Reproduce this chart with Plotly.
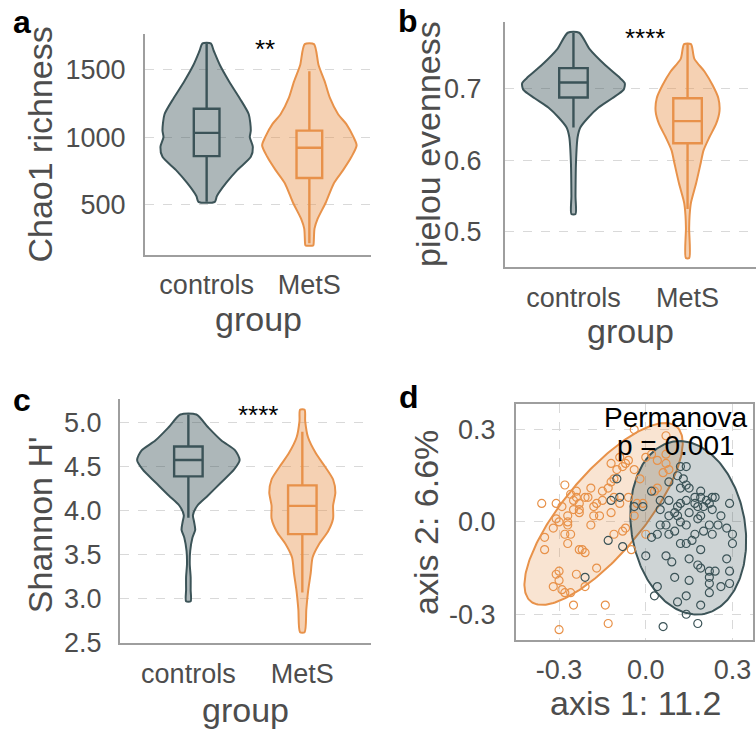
import numpy as np
import plotly.graph_objects as go

W, H = 756, 742
DARK = "#3C5458"
ORANGE = "#E8924A"
DARK_FILL = "rgba(60,84,88,0.42)"
ORANGE_FILL = "rgba(232,146,74,0.42)"
TXT = "#4D4D4D"
FONT = "Liberation Sans, Arial, sans-serif"

groups = ["controls", "MetS"]

# ---- panel a: Chao1 richness violin profiles (value, half-width) ----
chao_ctrl_vals = [520, 563, 660, 757, 854, 927, 1000, 1049, 1170, 1291, 1412, 1534, 1640, 1696]
chao_ctrl_hw = [0.08, 0.10, 0.19, 0.30, 0.43, 0.45, 0.42, 0.43, 0.41, 0.32, 0.22, 0.13, 0.07, 0.04]
chao_mets_vals = [195, 200, 321, 393, 515, 660, 757, 854, 939, 1000, 1097, 1170, 1291, 1412, 1534, 1691]
chao_mets_hw = [0.035, 0.04, 0.05, 0.08, 0.16, 0.24, 0.33, 0.41, 0.46, 0.43, 0.36, 0.28, 0.20, 0.15, 0.09, 0.045]
chao_box = {"controls": [520, 859, 1032, 1211, 1696], "MetS": [212, 697, 922, 1049, 1490]}

# ---- panel b: pielou evenness ----
piel_ctrl_vals = [0.525, 0.550, 0.596, 0.632, 0.646, 0.660, 0.674, 0.687, 0.699, 0.708, 0.715, 0.733, 0.756, 0.7785]
piel_ctrl_hw = [0.018, 0.018, 0.022, 0.036, 0.06, 0.13, 0.22, 0.34, 0.44, 0.45, 0.41, 0.28, 0.14, 0.05]
piel_mets_vals = [0.4635, 0.505, 0.523, 0.541, 0.568, 0.596, 0.614, 0.632, 0.651, 0.669, 0.687, 0.705, 0.724, 0.742, 0.7626]
piel_mets_hw = [0.015, 0.014, 0.018, 0.03, 0.075, 0.115, 0.14, 0.19, 0.25, 0.28, 0.27, 0.22, 0.15, 0.06, 0.03]
piel_box = {"controls": [0.646, 0.688, 0.709, 0.729, 0.778], "MetS": [0.532, 0.624, 0.655, 0.687, 0.7626]}

# ---- panel c: Shannon H' ----
shan_ctrl_vals = [2.969, 3.098, 3.246, 3.394, 3.542, 3.69, 3.782, 3.874, 3.948, 4.059, 4.17, 4.318, 4.466, 4.576, 4.687, 4.798, 4.946, 5.094]
shan_ctrl_hw = [0.02, 0.02, 0.02, 0.012, 0.016, 0.035, 0.06, 0.05, 0.04, 0.08, 0.17, 0.285, 0.40, 0.45, 0.41, 0.29, 0.175, 0.07]
shan_mets_vals = [2.618, 2.877, 3.098, 3.283, 3.468, 3.616, 3.763, 3.911, 4.059, 4.207, 4.355, 4.50, 4.65, 4.835, 5.02, 5.149]
shan_mets_hw = [0.02, 0.035, 0.052, 0.073, 0.09, 0.145, 0.225, 0.27, 0.27, 0.29, 0.27, 0.20, 0.12, 0.05, 0.025, 0.02]
shan_box = {"controls": [3.92, 4.39, 4.576, 4.73, 5.094], "MetS": [3.069, 3.734, 4.055, 4.288, 4.898]}

# ---- panel d: PCoA ----
ctrl_x = [0.12, 0.14, 0.13, 0.14, 0.12, 0.15, 0.19, 0.17, 0.19, 0.23, 0.29, 0.22, 0.20, 0.18, 0.17, 0.14,
          0.12, 0.11, 0.08, 0.10, 0.08, 0.05, 0.02, -0.01, 0.11, 0.15, 0.18, 0.22, 0.25, 0.28, 0.30, 0.30,
          0.20, 0.17, 0.14, 0.10, 0.08, 0.07, 0.05, 0.04, 0.02, 0.00, 0.07, 0.09, 0.10, 0.12, 0.14, 0.16,
          0.19, 0.15, 0.18, 0.19, 0.22, 0.24, 0.22, 0.22, 0.26, 0.22, 0.28, 0.29, 0.29, 0.15, 0.14, 0.11,
          0.14, 0.19, 0.04, 0.03, 0.06, 0.18, -0.12, -0.10, -0.09, -0.13, -0.08, -0.21, -0.04, 0.23, 0.19,
          0.24, 0.21, 0.26, 0.08, 0.11, 0.05, 0.12, 0.23]
ctrl_y = [0.18, 0.18, 0.14, 0.12, 0.11, 0.11, 0.10, 0.08, 0.08, 0.08, 0.06, 0.06, 0.05, 0.05, 0.06, 0.07,
          0.06, 0.05, 0.07, 0.03, 0.02, 0.04, 0.10, 0.05, 0.02, 0.03, 0.01, -0.01, -0.01, -0.02, -0.04, -0.07,
          -0.03, -0.04, -0.01, -0.03, -0.04, -0.01, -0.01, -0.04, -0.05, -0.11, -0.11, -0.13, -0.18, -0.07, -0.07, -0.06,
          -0.09, -0.12, -0.14, -0.15, -0.16, -0.16, -0.18, -0.20, -0.21, -0.23, -0.12, -0.20, -0.16, -0.19, -0.24, -0.26,
          -0.30, -0.27, -0.21, -0.24, -0.34, -0.33, 0.07, 0.14, 0.08, -0.06, -0.08, -0.18, 0.05, 0.04, 0.02,
          0.08, 0.07, 0.02, 0.13, 0.15, 0.07, 0.00, -0.04]
mets_x = [-0.36, -0.35, -0.35, -0.32, -0.31, -0.30, -0.28, -0.28, -0.27, -0.27, -0.27, -0.26, -0.25, -0.24, -0.24,
          -0.23, -0.23, -0.21, -0.23, -0.22, -0.21, -0.19, -0.20, -0.18, -0.19, -0.18, -0.17, -0.17, -0.30, -0.31,
          -0.30, -0.32, -0.29, -0.28, -0.26, -0.25, -0.24, -0.21, -0.14, -0.13, -0.30, -0.27, -0.31, -0.26, -0.15,
          -0.15, -0.13, -0.12, -0.12, -0.11, -0.12, -0.10, -0.08, -0.07, -0.04, -0.04, -0.06, -0.09, -0.06, -0.07,
          -0.08, -0.11, -0.04, -0.03, -0.01, 0.00, 0.02, 0.04, 0.07, 0.07, 0.07, 0.08, 0.06, 0.04, 0.03, 0.00,
          -0.05, -0.02, -0.09, -0.11, -0.16, -0.25, -0.29, -0.23]
mets_y = [0.06, -0.09, -0.05, -0.02, 0.06, 0.00, 0.12, -0.04, 0.00, -0.01, -0.07, 0.09, 0.07, 0.10, 0.08,
          0.06, 0.03, 0.08, -0.09, -0.09, -0.10, 0.11, 0.08, 0.05, -0.01, 0.02, 0.06, -0.15, -0.16, -0.17,
          -0.19, -0.21, -0.22, -0.23, -0.23, -0.27, -0.17, -0.21, -0.27, -0.33, -0.35, 0.02, 0.01, -0.04, 0.07,
          0.10, 0.11, 0.13, 0.03, 0.14, 0.19, 0.17, 0.18, 0.19, 0.17, 0.30, 0.20, 0.06, 0.08, -0.02,
          -0.03, -0.04, 0.02, 0.06, 0.06, 0.21, 0.22, 0.20, 0.28, 0.22, 0.19, 0.17, 0.16, 0.11, 0.10, -0.04,
          -0.09, 0.14, 0.21, 0.08, 0.02, 0.04, 0.05, 0.04]
# stat_ellipse parameters: centre x, centre y, semi-major, semi-minor, angle (deg)
ell_mets = [-0.146, 0.026, 0.380, 0.134, 47.8]
ell_ctrl = [0.147, -0.019, 0.285, 0.196, -78.3]

fig = go.Figure()


def px_dom(a, b, total):
    return [a / total, b / total]


def ydom(top, bottom):
    return [1 - bottom / H, 1 - top / H]


def add_violin(xa, ya, center, vals, hw, line, fill):
    vals = np.asarray(vals, float)
    hw = np.asarray(hw, float)
    xs = np.concatenate([center + hw, (center - hw)[::-1], [center + hw[0]]])
    ys = np.concatenate([vals, vals[::-1], [vals[0]]])
    fig.add_trace(go.Scatter(x=xs, y=ys, mode="lines", fill="toself", fillcolor=fill,
                             line=dict(color=line, width=2, shape="spline", smoothing=0.7),
                             xaxis=xa, yaxis=ya, showlegend=False, hoverinfo="skip"))


def add_box(xa, ya, center, stats, line):
    lf, q1, med, q3, uf = stats
    fig.add_trace(go.Box(x=[center], q1=[q1], median=[med], q3=[q3], lowerfence=[lf], upperfence=[uf],
                         width=0.25, whiskerwidth=0, fillcolor="white", boxpoints=False,
                         line=dict(color=line, width=2.4), xaxis=xa, yaxis=ya, showlegend=False,
                         hoverinfo="skip"))


panels = [
    ("x", "y", chao_ctrl_vals, chao_ctrl_hw, chao_mets_vals, chao_mets_hw, chao_box),
    ("x2", "y2", piel_ctrl_vals, piel_ctrl_hw, piel_mets_vals, piel_mets_hw, piel_box),
    ("x3", "y3", shan_ctrl_vals, shan_ctrl_hw, shan_mets_vals, shan_mets_hw, shan_box),
]
for xa, ya, cv, ch, mv, mh, bx in panels:
    add_violin(xa, ya, 1, cv, ch, DARK, DARK_FILL)
    add_violin(xa, ya, 2, mv, mh, ORANGE, ORANGE_FILL)
    add_box(xa, ya, 1, bx["controls"], DARK)
    add_box(xa, ya, 2, bx["MetS"], ORANGE)


def ellipse(p, n=240):
    cx, cy, a, b, ang = p
    t = np.linspace(0, 2 * np.pi, n)
    th = np.deg2rad(ang)
    ex = cx + a * np.cos(t) * np.cos(th) - b * np.sin(t) * np.sin(th)
    ey = cy + a * np.cos(t) * np.sin(th) + b * np.sin(t) * np.cos(th)
    return ex, ey


for p, line, fill in [(ell_mets, ORANGE, "rgba(232,146,74,0.25)"), (ell_ctrl, DARK, "rgba(60,84,88,0.25)")]:
    ex, ey = ellipse(p)
    fig.add_trace(go.Scatter(x=ex, y=ey, mode="lines", fill="toself", fillcolor=fill,
                             line=dict(color=line, width=2), xaxis="x4", yaxis="y4",
                             showlegend=False, hoverinfo="skip"))

fig.add_trace(go.Scatter(x=mets_x, y=mets_y, mode="markers", xaxis="x4", yaxis="y4", showlegend=False,
                         marker=dict(symbol="circle-open", size=8, color=ORANGE, line=dict(width=1.2))))
fig.add_trace(go.Scatter(x=ctrl_x, y=ctrl_y, mode="markers", xaxis="x4", yaxis="y4", showlegend=False,
                         marker=dict(symbol="circle-open", size=8, color=DARK, line=dict(width=1.2))))

tickfont = dict(family=FONT, size=27, color=TXT)
AXLINE = "#9E9E9E"
GRID = "#D9D9D9"


def cat_xaxis(dom):
    return dict(domain=dom, range=[0.4, 2.6], tickvals=[1, 2], ticktext=groups, showline=True,
                linecolor=AXLINE, linewidth=2, showgrid=False, zeroline=False, ticks="",
                tickfont=tickfont, ticklabelstandoff=5)


def val_yaxis(dom, rng, tv, tt, so):
    return dict(domain=dom, range=rng, tickvals=tv, ticktext=tt, showline=True, linecolor=AXLINE,
                linewidth=2, showgrid=True, gridcolor=GRID, griddash="dash", gridwidth=1.2,
                zeroline=False, ticks="", tickfont=tickfont, ticklabelstandoff=so)


chao_ticks = [500, 1000, 1500]
piel_ticks = [0.5, 0.6, 0.7]
shan_ticks = [2.5, 3.0, 3.5, 4.0, 4.5, 5.0]
pcoa_ticks = [-0.3, 0.0, 0.3]

layout = dict(
    width=W, height=H, margin=dict(l=0, r=0, t=0, b=0), paper_bgcolor="white", plot_bgcolor="white",
    font=dict(family=FONT, color=TXT), showlegend=False,
    xaxis=cat_xaxis(px_dom(145, 371, W)),
    yaxis=val_yaxis(ydom(35, 260), [127, 1764], chao_ticks, [str(v) for v in chao_ticks], 12),
    xaxis2=dict(cat_xaxis(px_dom(505, 756, W)), anchor="y2"),
    yaxis2=dict(val_yaxis(ydom(22.7, 272.7), [0.4507, 0.7932], piel_ticks, ["0.5", "0.6", "0.7"], 16), anchor="x2"),
    xaxis3=dict(cat_xaxis(px_dom(120, 370.7, W)), anchor="y3"),
    yaxis3=dict(val_yaxis(ydom(407.3, 656.7), [2.49, 5.27], shan_ticks, [f"{v:.1f}" for v in shan_ticks], 11), anchor="x3"),
    xaxis4=dict(domain=px_dom(516, 752.7, W), range=[-0.449, 0.370], tickvals=pcoa_ticks,
                ticktext=["-0.3", "0.0", "0.3"], showline=True, mirror=True, linecolor=AXLINE, linewidth=2,
                showgrid=True, gridcolor=GRID, griddash="dash", gridwidth=1.2, zeroline=False, ticks="",
                tickfont=tickfont, ticklabelstandoff=5, anchor="y4"),
    yaxis4=dict(domain=ydom(412.7, 652.7), range=[-0.382, 0.382], tickvals=pcoa_ticks,
                ticktext=["-0.3", "0.0", "0.3"], showline=True, mirror=True, linecolor=AXLINE, linewidth=2,
                showgrid=True, gridcolor=GRID, griddash="dash", gridwidth=1.2, zeroline=False, ticks="",
                tickfont=tickfont, ticklabelstandoff=13, anchor="x4"),
)
fig.update_layout(**layout)

ann = []


def txt(x, y, s, size, color=TXT, angle=0, bold=False, xanchor="center", yanchor="middle"):
    ann.append(dict(x=x / W, y=1 - y / H, xref="paper", yref="paper", text=f"<b>{s}</b>" if bold else s,
                    showarrow=False, textangle=angle, xanchor=xanchor, yanchor=yanchor,
                    font=dict(family=FONT, size=size, color=color)))


# axis titles
txt(40, 147.5, "Chao1 richness", 34, angle=-90)
txt(258, 326, "group", 34)
txt(428, 147, "pielou evenness", 34, angle=-90)
txt(630, 338, "group", 34)
txt(40, 536, "Shannon H'", 34, angle=-90)
txt(245, 725, "group", 34)
txt(426.7, 533, "axis 2: 6.6%", 34, angle=-90)
txt(635, 718, "axis 1: 11.2", 34)
# panel letters
txt(22, 22, "a", 32, color="black", bold=True)
txt(408, 21, "b", 32, color="black", bold=True)
txt(22, 408, "c", 32, color="black", bold=True)
txt(409, 405, "d", 32, color="black", bold=True)
# significance
txt(265, 50, "**", 26, color="black")
txt(645, 39, "****", 26, color="black")
txt(258, 424, "****", 26, color="black")
# permanova
txt(676, 426, "Permanova", 28, color="black")
txt(676, 455, "p = 0.001", 28, color="black")

fig.update_layout(annotations=ann)
fig.write_html("out.html")
